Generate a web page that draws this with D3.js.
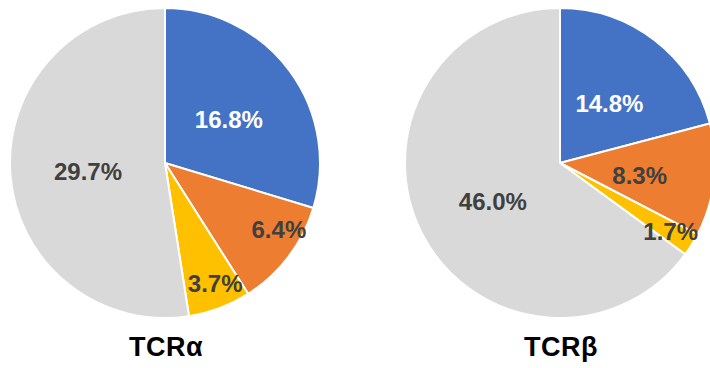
<!DOCTYPE html>
<html>
<head>
<meta charset="utf-8">
<script src="https://cdn.jsdelivr.net/npm/d3@7"></script>
<style>
  body { margin: 0; background: #fff; }
  svg text { font-family: "Liberation Sans", Arial, sans-serif; font-weight: bold; }
</style>
</head>
<body>
<svg id="chart" width="710" height="368"></svg>
<script>
"use strict";

// Chart titles
var titles = ["TCRα", "TCRβ"];

// Slice categories (same order in both pies)
var categories = ["blue", "orange", "yellow", "grey"];

// Percent values
var alphaValues = [16.8, 6.4, 3.7, 29.7];
var betaValues = [14.8, 8.3, 1.7, 46.0];

var colors = ["#4472C4", "#ED7D31", "#FFC000", "#D9D9D9"];
var labelColors = ["#ffffff", "#404040", "#404040", "#404040"];

// Label placement: fraction of the radius, and a small angle nudge (degrees)
var alphaLabelPos = [0.5, 0.85, 0.84, 0.5];
var alphaLabelNudge = [2, -7, -2, -2];
var betaLabelPos = [0.5, 0.52, 0.84, 0.5];
var betaLabelNudge = [2, 2.5, 0, -3];

var svg = d3.select("#chart");
var radius = 155;

var pies = [
  {title: titles[0], values: alphaValues, labelPos: alphaLabelPos, nudge: alphaLabelNudge, cx: 165, tx: 166},
  {title: titles[1], values: betaValues, labelPos: betaLabelPos, nudge: betaLabelNudge, cx: 560, tx: 561}
];

var pie = d3.pie().sort(null).value(function(d) { return d; });
var arc = d3.arc().innerRadius(0).outerRadius(radius);

pies.forEach(function(p) {
  var g = svg.append("g").attr("transform", "translate(" + p.cx + ",163)");
  var arcs = pie(p.values);

  g.selectAll("path")
    .data(arcs)
    .enter().append("path")
    .attr("d", arc)
    .attr("fill", function(d, i) { return colors[i]; })
    .attr("stroke", "#fff")
    .attr("stroke-width", 2)
    .attr("stroke-linejoin", "round");

  g.selectAll("text.label")
    .data(arcs)
    .enter().append("text")
    .attr("class", "label")
    .attr("transform", function(d, i) {
      var r = radius * p.labelPos[i];
      var a = (d.startAngle + d.endAngle) / 2 + p.nudge[i] * Math.PI / 180;
      return "translate(" + (Math.sin(a) * r) + "," + (-Math.cos(a) * r) + ")";
    })
    .attr("text-anchor", "middle")
    .attr("dy", "0.36em")
    .attr("font-size", 24)
    .attr("fill", function(d, i) { return labelColors[i]; })
    .text(function(d) { return d.data.toFixed(1) + "%"; });

  svg.append("text")
    .attr("x", p.tx)
    .attr("y", 356)
    .attr("text-anchor", "middle")
    .attr("font-size", 27)
    .attr("letter-spacing", 0.5)
    .attr("fill", "#000")
    .text(p.title);
});
</script>
</body>
</html>
